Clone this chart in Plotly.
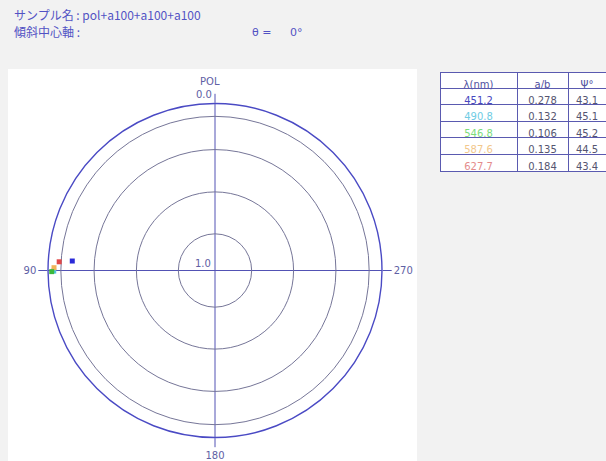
import numpy as np
import plotly.graph_objects as go

# ---- data ----
wavelengths = ["451.2", "490.8", "546.8", "587.6", "627.7"]
ratio_ab = [0.278, 0.132, 0.106, 0.135, 0.184]
psi_deg = [43.1, 45.1, 45.2, 44.5, 43.4]
series_colors = ["#2a2ad8", "#4cc4e4", "#3cb83c", "#f0b45a", "#e04848"]
text_colors = ["#4848c0", "#70cce4", "#7cdc7c", "#f2c88c", "#e48c8c"]
grid_ab = [0.2, 0.4, 0.6, 0.8]
angle_ticks = [0, 90, 180, 270]
angle_labels = ["", "90", "180", "270"]


def proj(t):
    t = np.asarray(t, dtype=float)
    return (1 - t ** 2) / (1 + t ** 2)   # cos(2*arctan(a/b))


W, H = 606, 461
cx, cy, R = 215, 270.5, 167

fig = go.Figure()

# draw points (plot order so that green ends on top as in reference)
order = [0, 4, 1, 3, 2]
for i in order:
    fig.add_trace(go.Scatterpolar(
        r=[float(proj(ratio_ab[i]))], theta=[2 * psi_deg[i]],
        mode="markers",
        marker=dict(symbol="square", size=5, color=series_colors[i]),
        showlegend=False, hoverinfo="skip"))

line_blue = "#5252b4"
fig.update_layout(
    width=W, height=H,
    margin=dict(l=0, r=0, t=0, b=0),
    paper_bgcolor="#f2f2f2",
    plot_bgcolor="#f2f2f2",
    showlegend=False,
    polar=dict(
        domain=dict(x=[(cx - R) / W, (cx + R) / W],
                    y=[(H - cy - R) / H, (H - cy + R) / H]),
        bgcolor="rgba(0,0,0,0)",
        angularaxis=dict(
            rotation=90, direction="counterclockwise",
            tickmode="array", tickvals=angle_ticks, ticktext=angle_labels,
            showline=True, linecolor="#4a4ac4", linewidth=1.4,
            showgrid=True, gridcolor=line_blue, gridwidth=1.2,
            ticks="outside", ticklen=9, tickcolor=line_blue, tickwidth=1.2,
            tickfont=dict(family="DejaVu Sans", size=10, color="#6060a4"),
        ),
        radialaxis=dict(
            range=[0, 1], tickmode="array",
            tickvals=[float(v) for v in proj(grid_ab)],
            showticklabels=False, ticks="", showline=False,
            showgrid=True, gridcolor="#767698", gridwidth=1.3,
        ),
    ),
)

# white panel
fig.add_shape(type="rect", xref="paper", yref="paper",
              x0=8 / W, x1=417 / W, y0=0, y1=(H - 69) / H,
              fillcolor="white", line=dict(width=0), layer="below")


def ann(text, x, y, xanchor="center", size=10, color="#6060a4", family="DejaVu Sans"):
    fig.add_annotation(text=text, xref="paper", yref="paper",
                       x=x / W, y=(H - y) / H, xanchor=xanchor, yanchor="middle",
                       showarrow=False, font=dict(family=family, size=size, color=color))


ann("POL", 210, 82)
ann("0.0", 214, 94, xanchor="right")
ann("1.0", 203, 263)

# header texts
ann("サンプル名 : pol+a100+a100+a100", 12, 14, xanchor="left", size=12,
    color="#5252c4", family="Noto Sans CJK JP")
ann("傾斜中心軸 :", 12, 32, xanchor="left", size=12,
    color="#5252c4", family="Noto Sans CJK JP")
ann("θ =", 250, 33, xanchor="left", size=11, color="#5252c4", family="DejaVu Sans")
ann("0°", 288, 33, xanchor="left", size=11, color="#5252c4", family="DejaVu Sans")

# table
fig.add_trace(go.Table(
    domain=dict(x=[440 / W, 1.0], y=[(H - 175) / H, (H - 72) / H]),
    columnwidth=[77, 51, 38],
    header=dict(values=["λ(nm)", "a/b", "Ψ°"],
                fill_color="white", line=dict(color="#5a5ab0", width=1),
                font=dict(family="DejaVu Sans", size=10, color="#5050a0"),
                align="center", height=16),
    cells=dict(values=[wavelengths,
                       [f"{v:.3f}" for v in ratio_ab],
                       [f"{v:.1f}" for v in psi_deg]],
               fill_color="white", line=dict(color="#5a5ab0", width=1),
               font=dict(family="DejaVu Sans", size=10,
                         color=[text_colors, ["#555570"] * 5, ["#555570"] * 5]),
               align="center", height=16.6),
))

fig.write_html("out.html",
               config={"displayModeBar": False},
               post_script="document.body.style.margin='0';"
                           "document.body.style.overflow='hidden';")
